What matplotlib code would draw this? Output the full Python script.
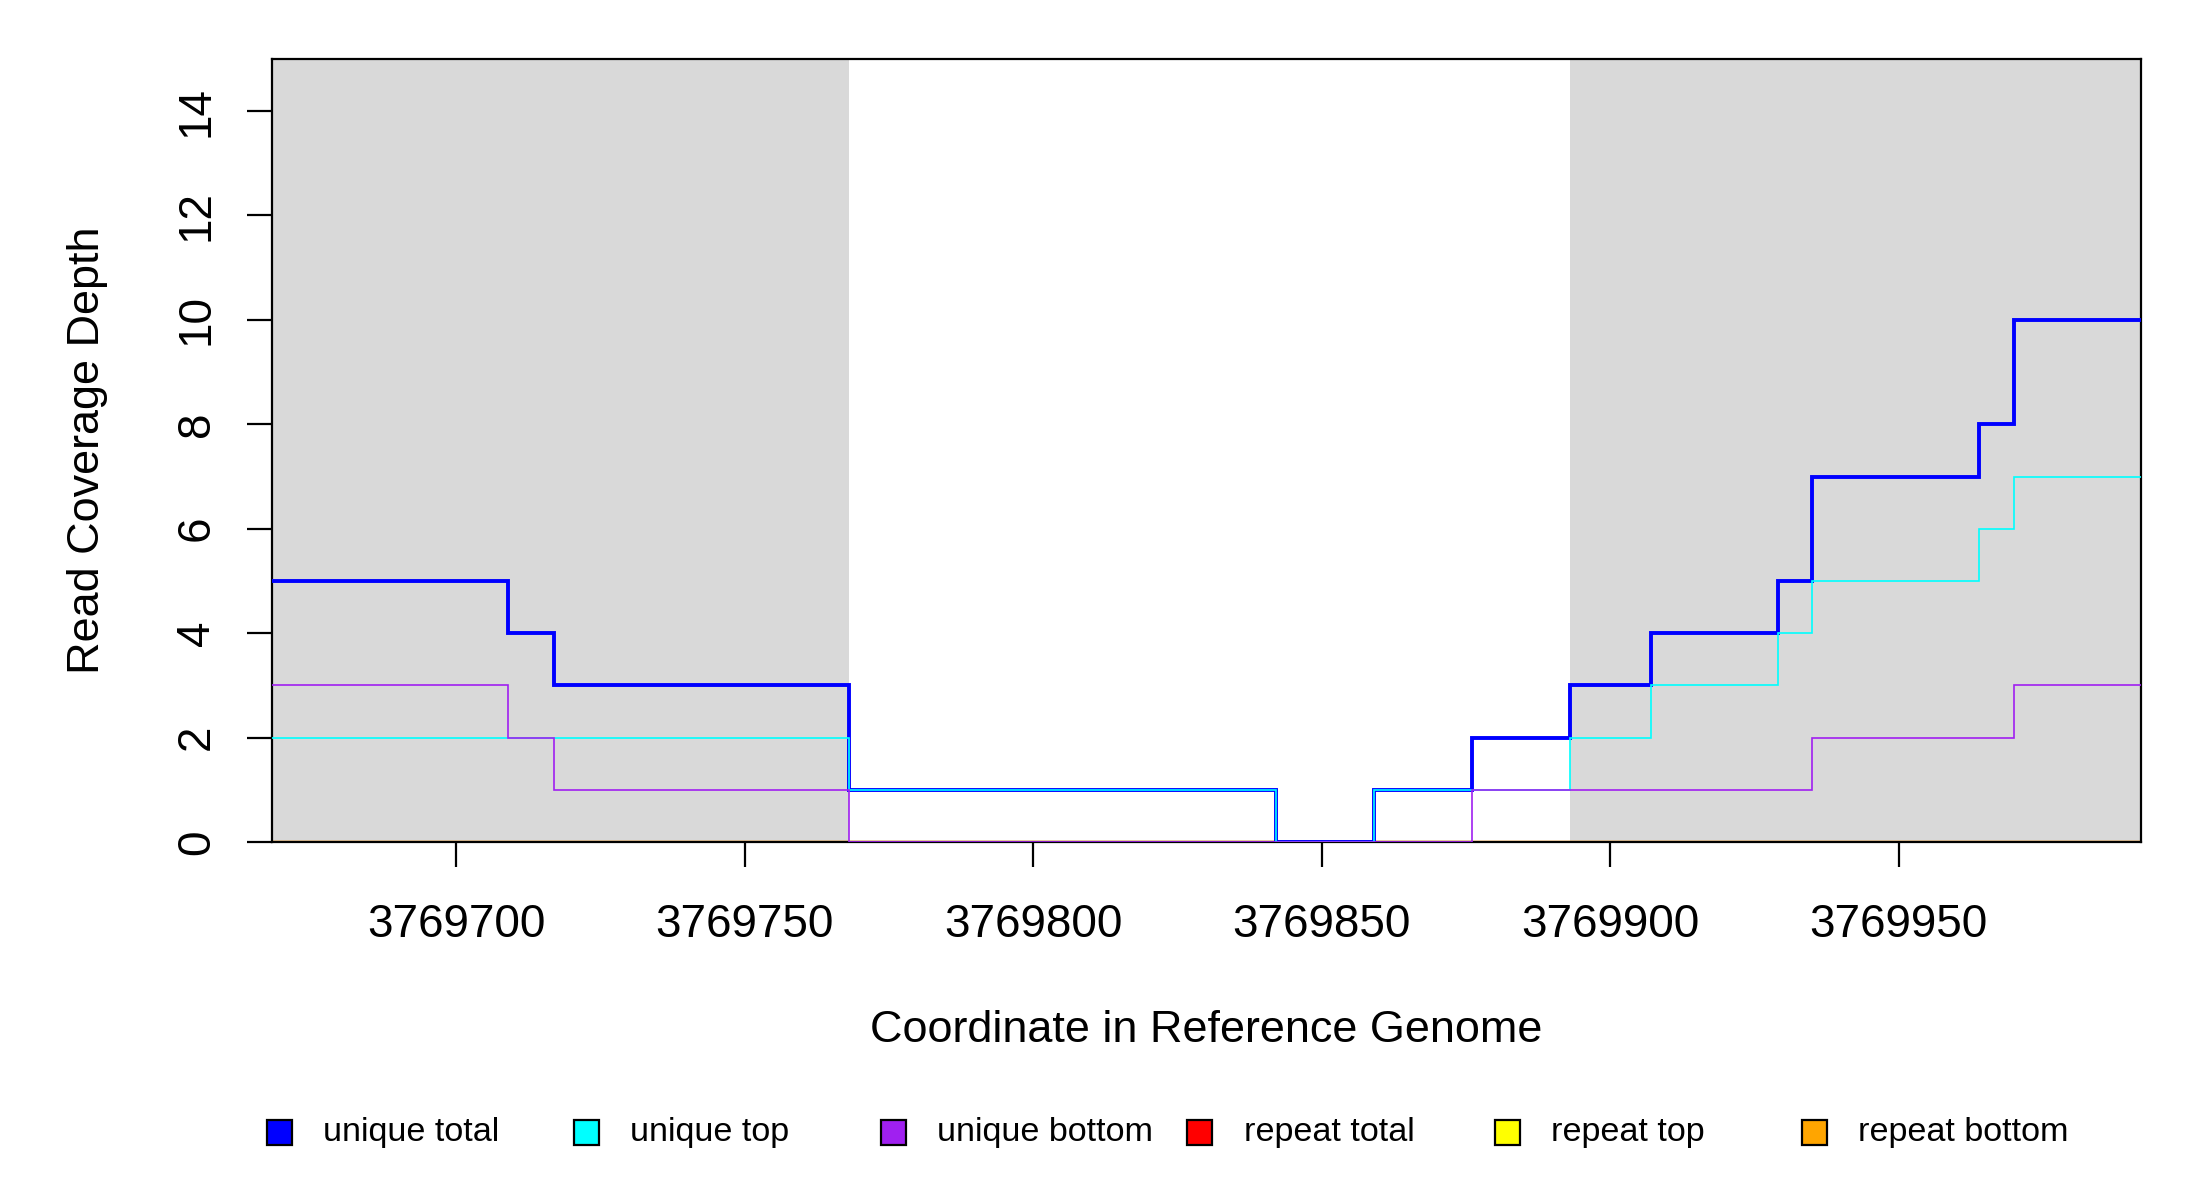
import matplotlib
matplotlib.use('Agg')
import matplotlib.pyplot as plt
from matplotlib.patches import Rectangle

plt.rcParams['font.family'] = ['Liberation Sans', 'DejaVu Sans']

# coverage steps (edges are genome coordinates, values hold between edges)
edges = [3769668, 3769709, 3769717, 3769768, 3769842, 3769859, 3769876,
         3769893, 3769907, 3769929, 3769935, 3769964, 3769970, 3769992]
unique_total = [5, 4, 3, 1, 0, 1, 2, 3, 4, 5, 7, 8, 10]
unique_top = [2, 2, 2, 1, 0, 1, 1, 2, 3, 4, 5, 6, 7]
unique_bottom = [3, 2, 1, 0, 0, 0, 1, 1, 1, 1, 2, 2, 3]
repeat_total = [0] * 13
repeat_top = [0] * 13
repeat_bottom = [0] * 13

# gray shaded regions
shaded = [(3769668, 3769768), (3769893, 3769992)]

x_ticks = [3769700, 3769750, 3769800, 3769850, 3769900, 3769950]
y_ticks = [0, 2, 4, 6, 8, 10, 12, 14]

labels = ['unique total', 'unique top', 'unique bottom',
          'repeat total', 'repeat top', 'repeat bottom']
colors = ['#0000ff', '#00ffff', '#a020f0', '#ff0000', '#ffff00', '#ffa500']

fig = plt.figure(figsize=(11, 6), dpi=200)
ax = fig.add_axes([0.1235, 0.2983, 0.9732 - 0.1235, 0.951 - 0.2983])

for a, b in shaded:
    ax.axvspan(a, b, color='#d9d9d9', lw=0, zorder=0)

# repeat lines first, unique lines on top
ax.stairs(repeat_total, edges, baseline=None, color=colors[3], lw=0.8, zorder=2)
ax.stairs(repeat_top, edges, baseline=None, color=colors[4], lw=0.8, zorder=2)
ax.stairs(repeat_bottom, edges, baseline=None, color=colors[5], lw=0.8, zorder=2)
ax.stairs(unique_total, edges, baseline=None, color=colors[0], lw=1.4, zorder=3)
ax.stairs(unique_top, edges, baseline=None, color=colors[1], lw=0.6, zorder=3)
ax.stairs(unique_bottom, edges, baseline=None, color=colors[2], lw=0.6, zorder=3)

ax.set_xlim(edges[0], edges[-1])
ax.set_ylim(0, 15)
ax.set_xticks(x_ticks)
ax.set_xticklabels([str(t) for t in x_ticks])
ax.set_yticks(y_ticks)
ax.tick_params(axis='both', labelsize=16.5, length=9, width=0.8, direction='out')
ax.tick_params(axis='x', pad=13)
ax.tick_params(axis='y', pad=10, labelrotation=90)
for lab in ax.get_yticklabels():
    lab.set_va('center')

for sp in ax.spines.values():
    sp.set_linewidth(0.8)

ax.set_xlabel('Coordinate in Reference Genome', fontsize=16.2)
ax.set_ylabel('Read Coverage Depth', fontsize=16.2)
ax.xaxis.set_label_coords(0.5, -0.241)
ax.xaxis.label.set_va('center')
ax.yaxis.set_label_coords(-0.0988, 0.5)
ax.yaxis.label.set_va('center')

# legend row, evenly spaced like R's horizontal legend
y_leg = 1 - 1132 / 1200
for i, (lab, c) in enumerate(zip(labels, colors)):
    xc = (279 + i * 307) / 2200
    w = 25 / 2200
    h = 25 / 1200
    fig.add_artist(Rectangle((xc - w / 2, y_leg - h / 2), w, h, transform=fig.transFigure,
                             facecolor=c, edgecolor='black', lw=0.8))
    fig.text(xc + 44 / 2200, y_leg, lab, fontsize=12.3, va='center', ha='left')

fig.savefig('out.png', dpi=200)
